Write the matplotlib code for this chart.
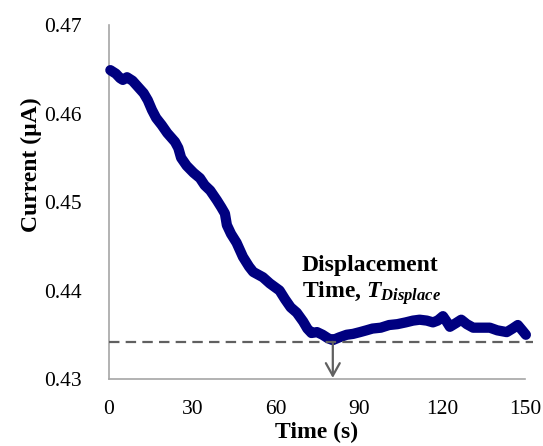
import matplotlib
matplotlib.use("Agg")
import matplotlib.pyplot as plt
from matplotlib.patches import FancyArrowPatch

plt.rcParams['font.family'] = ['Liberation Serif', 'DejaVu Serif']
plt.rcParams['mathtext.fontset'] = 'custom'
plt.rcParams['mathtext.it'] = 'Liberation Serif:italic:bold'
plt.rcParams['mathtext.rm'] = 'Liberation Serif:bold'
plt.rcParams['mathtext.bf'] = 'Liberation Serif:bold'

time_s = [0.5, 2.5, 4, 5, 6.5, 8.5, 10.5, 12.5, 14, 15.5, 17, 19, 21, 23.8, 25, 26,
          28, 30.5, 32.8, 34.5, 36.5, 38.9, 40.5, 41.8, 42.5, 44, 46, 48.3, 50.5,
          52, 55.5, 58, 61.5, 63.5, 65.5, 67.7, 70, 71.5, 73, 75, 77, 79, 80.7, 83,
          85.7, 88, 90.5, 92.8, 95, 98, 101, 104, 107, 109.6, 112, 114.6, 116.8,
          118.5, 120.4, 121.5, 122.9, 125, 127, 129, 131.3, 134, 137.3, 140, 143.4,
          145.5, 147.4, 149, 150.3]
current_uA = [0.4649, 0.4645, 0.4640, 0.4638, 0.4641, 0.4637, 0.4630, 0.4623, 0.4615,
              0.4604, 0.4595, 0.4587, 0.4578, 0.4568, 0.4561, 0.4550, 0.4541, 0.4533,
              0.4527, 0.4519, 0.4513, 0.4502, 0.4494, 0.4487, 0.4474, 0.4464, 0.4454,
              0.4438, 0.4427, 0.4421, 0.4415, 0.4408, 0.4400, 0.4390, 0.4381, 0.4375,
              0.4365, 0.4357, 0.4352, 0.4353, 0.4350, 0.4346, 0.4344, 0.4347, 0.4350,
              0.4351, 0.4353, 0.4355, 0.4357, 0.4358, 0.4361, 0.4362, 0.4364, 0.4366,
              0.4367, 0.4366, 0.4364, 0.4366, 0.4371, 0.4366, 0.4359, 0.4363, 0.4367,
              0.4362, 0.4358, 0.4358, 0.4358, 0.4355, 0.4353, 0.4357, 0.4361, 0.4355,
              0.4350]

x_ticks = [0, 30, 60, 90, 120, 150]
y_ticks = [0.43, 0.44, 0.45, 0.46, 0.47]
y_tick_labels = ["0.43", "0.44", "0.45", "0.46", "0.47"]
baseline_current = 0.4342
t_displace = 80.7

fig = plt.figure(figsize=(5.43, 4.46), dpi=100)
ax = fig.add_axes([0.2007, 0.1502, 0.7662, 0.7937])

ax.plot(time_s, current_uA, color='#000080', lw=7.4, solid_joinstyle='round',
        solid_capstyle='round', clip_on=False, zorder=3)

ax.plot([0, 152.8], [baseline_current, baseline_current], color='#606060', lw=1.6,
        dashes=(4.7, 2.8), clip_on=False, zorder=4)

arrow = FancyArrowPatch((t_displace, baseline_current), (t_displace, 0.43012),
                        arrowstyle='->,head_length=0.45,head_width=0.25',
                        mutation_scale=20, color='#606060', lw=1.6,
                        shrinkA=0, shrinkB=0, clip_on=False, zorder=5)
ax.add_patch(arrow)

ax.text(69.5, 0.44105, "Displacement\nTime, $T_{Displace}$", fontsize=17,
        fontweight='bold', ha='left', va='center', linespacing=1.15, zorder=6)

ax.set_xlim(0, 150)
ax.set_ylim(0.43, 0.47)
ax.set_xticks(x_ticks)
ax.set_yticks(y_ticks)
ax.set_yticklabels(y_tick_labels)
ax.tick_params(axis='both', length=0, labelsize=15.5)
ax.tick_params(axis='x', pad=15)
ax.tick_params(axis='y', pad=19.5)
for s in ['top', 'right']:
    ax.spines[s].set_visible(False)
for s in ['left', 'bottom']:
    ax.spines[s].set_color('#a6a6a6')
    ax.spines[s].set_linewidth(1.2)

ax.set_xlabel("Time (s)", fontsize=17, fontweight='bold', labelpad=2)
ax.set_ylabel("Current (µA)", fontsize=17, fontweight='bold')
ax.yaxis.set_label_coords(-0.161, 0.605)

fig.savefig("out.png", dpi=100)
